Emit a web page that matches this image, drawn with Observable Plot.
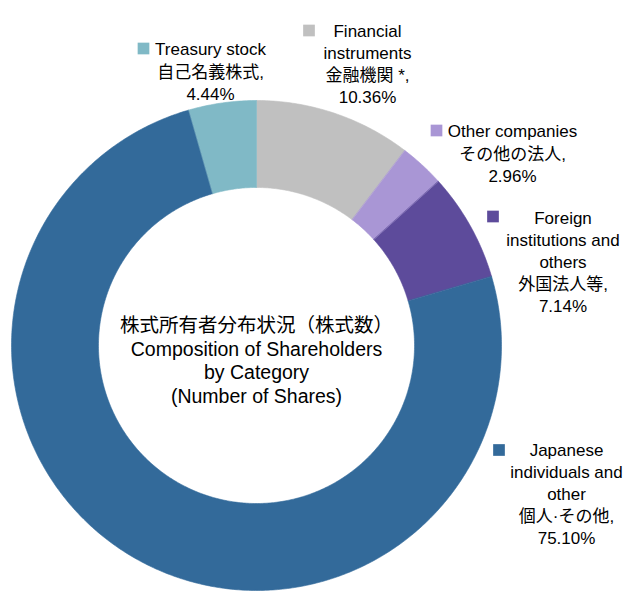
<!DOCTYPE html>
<html>
<head>
<meta charset="utf-8">
<script src="https://cdn.jsdelivr.net/npm/d3@7"></script>
<script src="https://cdn.jsdelivr.net/npm/@observablehq/plot@0.6"></script>
<style>
  html, body { margin: 0; padding: 0; background: #fff; }
  #chart svg { display: block; }
  #chart text { font-family: "Liberation Sans", Arial, "Noto Sans CJK JP", sans-serif; }
</style>
</head>
<body>
<div id="chart"></div>
<script>
// ---- data ----
const categories = ["Financial instruments", "Other companies", "Foreign institutions and others", "Japanese individuals and other", "Treasury stock"];
const values = [10.36, 2.96, 7.14, 75.10, 4.44];
const labelsEn = ["Financial\ninstruments", "Other companies", "Foreign\ninstitutions and\nothers", "Japanese\nindividuals and\nother", "Treasury stock"];
const labelsJa = ["金融機関 *,", "その他の法人,", "外国法人等,", "個人·その他,", "自己名義株式,"];
const percentLabels = ["10.36%", "2.96%", "7.14%", "75.10%", "4.44%"];
const colors = ["#c0c0c0", "#a996d5", "#5d4b9b", "#336a9a", "#80b9c6"];
const centerTitle = "株式所有者分布状況（株式数）\nComposition of Shareholders\nby Category\n(Number of Shares)";

// ---- layout (annotation placement, pixels) ----
const W = 634, H = 597;
const cx = 256, cy = 345, R = 245, innerRatio = 0.645;
const labelLayout = [
  {bx: 367, by: 62.5, sx: 308.5, sy: 30},
  {bx: 512, by: 152, sx: 436, sy: 130},
  {bx: 562.5, by: 260.5, sx: 492.5, sy: 216},
  {bx: 566, by: 492.5, sx: 498.5, sy: 449.5},
  {bx: 210, by: 70, sx: 143, sy: 48}
];

// ---- derived ring polygons from data ----
const pie = d3.pie().sort(null).value(d => d)(values);
const ringPoints = [];
pie.forEach((p, i) => {
  const n = Math.max(4, Math.ceil((p.endAngle - p.startAngle) / 0.01));
  for (let k = 0; k <= n; k++) {
    const a = p.startAngle + (p.endAngle - p.startAngle) * k / n;
    ringPoints.push({cat: categories[i], x: Math.sin(a), y: Math.cos(a)});
  }
  for (let k = n; k >= 0; k--) {
    const a = p.startAngle + (p.endAngle - p.startAngle) * k / n;
    ringPoints.push({cat: categories[i], x: innerRatio * Math.sin(a), y: innerRatio * Math.cos(a)});
  }
});

const font = '"Liberation Sans", Arial, "Noto Sans CJK JP", sans-serif';
const labelMarks = [];
categories.forEach((c, i) => {
  const L = labelLayout[i];
  labelMarks.push(Plot.text([labelsEn[i] + "\n" + labelsJa[i] + "\n" + percentLabels[i]], {
    frameAnchor: "top-left", dx: L.bx, dy: L.by, text: d => d,
    textAnchor: "middle", lineAnchor: "middle", lineHeight: 1.3,
    fontSize: 17, fill: "#000", fontFamily: font
  }));
  labelMarks.push(Plot.dot([c], {
    frameAnchor: "top-left", dx: L.sx, dy: L.sy, fill: d => d,
    symbol: "square", r: 6.6, stroke: "none"
  }));
});

const chart = Plot.plot({
  width: W, height: H,
  margin: 0,
  style: {background: "#fff", fontFamily: font},
  x: {domain: [-1, 1], range: [cx - R, cx + R], axis: null},
  y: {domain: [-1, 1], range: [cy + R, cy - R], axis: null},
  color: {domain: categories, range: colors},
  marks: [
    Plot.line(ringPoints, {x: "x", y: "y", z: "cat", fill: "cat", stroke: "cat", strokeWidth: 0.6, curve: "linear-closed"}),
    Plot.text([centerTitle], {frameAnchor: "top-left", dx: cx, dy: 359.5, text: d => d,
      textAnchor: "middle", lineAnchor: "middle", lineHeight: 1.2, fontSize: 19.5, fill: "#000", fontFamily: font}),
    ...labelMarks
  ]
});
document.getElementById("chart").appendChild(chart);
</script>
</body>
</html>
